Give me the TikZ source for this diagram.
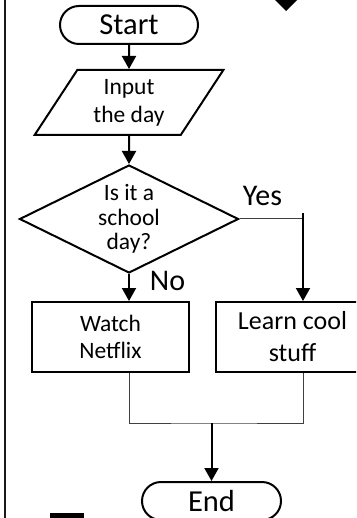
\documentclass[tikz,border=0pt]{standalone}
\usepackage{fontspec}
\setmainfont{Carlito}
\usetikzlibrary{positioning, arrows.meta, shapes.geometric}

\begin{document}
\begin{tikzpicture}[
			x=1pt, y=1pt,
			on grid,
			line width=2pt,
			term/.style={
				draw,
				rectangle,
				rounded corners=19pt,
				minimum width=138pt,
				minimum height=38pt,
				font=\fontsize{30.5}{34}\selectfont
			},
			io/.style={
				draw,
				trapezium,
				trapezium left angle=58,
				trapezium right angle=122,
				trapezium stretches=true,
				minimum width=189pt,
				minimum height=65pt,
				inner sep=0pt,
				align=center,
				font=\fontsize{23.5}{28}\selectfont
			},
			decision/.style={
				draw,
				diamond,
				minimum width=219pt,
				minimum height=108pt,
				inner sep=0pt
			},
			process/.style={
				draw,
				rectangle,
				minimum height=70pt,
				align=center
			},
			answer/.style={
				anchor=base,
				font=\fontsize{30}{34}\selectfont
			},
			arrow/.style={
				-{Triangle[width=14pt,length=13pt]}
			},
			link/.style={
				line width=1pt,
				draw=black!75
			}
			]
			\useasboundingbox (0,0) rectangle (356,-518);
			\clip (0,0) rectangle (356,-518);
			
			% Page edge and cut-off marks
			\draw[line width=2.5pt, black!90] (5,0) -- (5,-518);
			\fill (275,0) -- (297,0) -- (286,-11) -- cycle;
			\fill (50,-513) rectangle (84,-520);
			
			% Blocks
			\node[term] (start) at (129,-25) {Start};
			\node[io] (input) [below=77.5pt of start] {Input\\the day};
			\node[decision, label={[align=center, font=\fontsize{23.5}{24.5}\selectfont]center:Is it a\\school\\day?}] (decide) [below=116.5pt of input] {};
			\node[process, minimum width=157pt, font=\fontsize{23.5}{27}\selectfont] (watch) at (110.5,-337) {Watch\\Netflix};
			\node[process, minimum width=153pt, font=\fontsize{26}{32}\selectfont] (learn) [right=182pt of watch] {Learn cool\\stuff};
			\node[term, minimum width=139pt] (end) at (211.5,-501) {End};
			
			% Branch labels
			\node[answer] (yes) at (262.5,-206) {Yes};
			\node[answer] (no) at (167.5,-290) {No};
			
			% Turning points
			\coordinate[right=174pt of decide] (yesturn);
			\coordinate[above=78pt of end] (join);
			
			% Flow
			\draw[arrow] (start) -- (input);
			\draw[arrow] (input) -- (decide);
			\draw[arrow] (decide) -- (decide |- watch.north);
			\draw[link] (decide.east) -- (yesturn);
			\draw[arrow] ([yshift=6pt]yesturn) -- (yesturn |- learn.north);
			\draw[link] (decide |- watch.south) |- (join) -| (yesturn |- learn.south);
			\draw[arrow] (join) -- (end);
		\end{tikzpicture}
\end{document}
